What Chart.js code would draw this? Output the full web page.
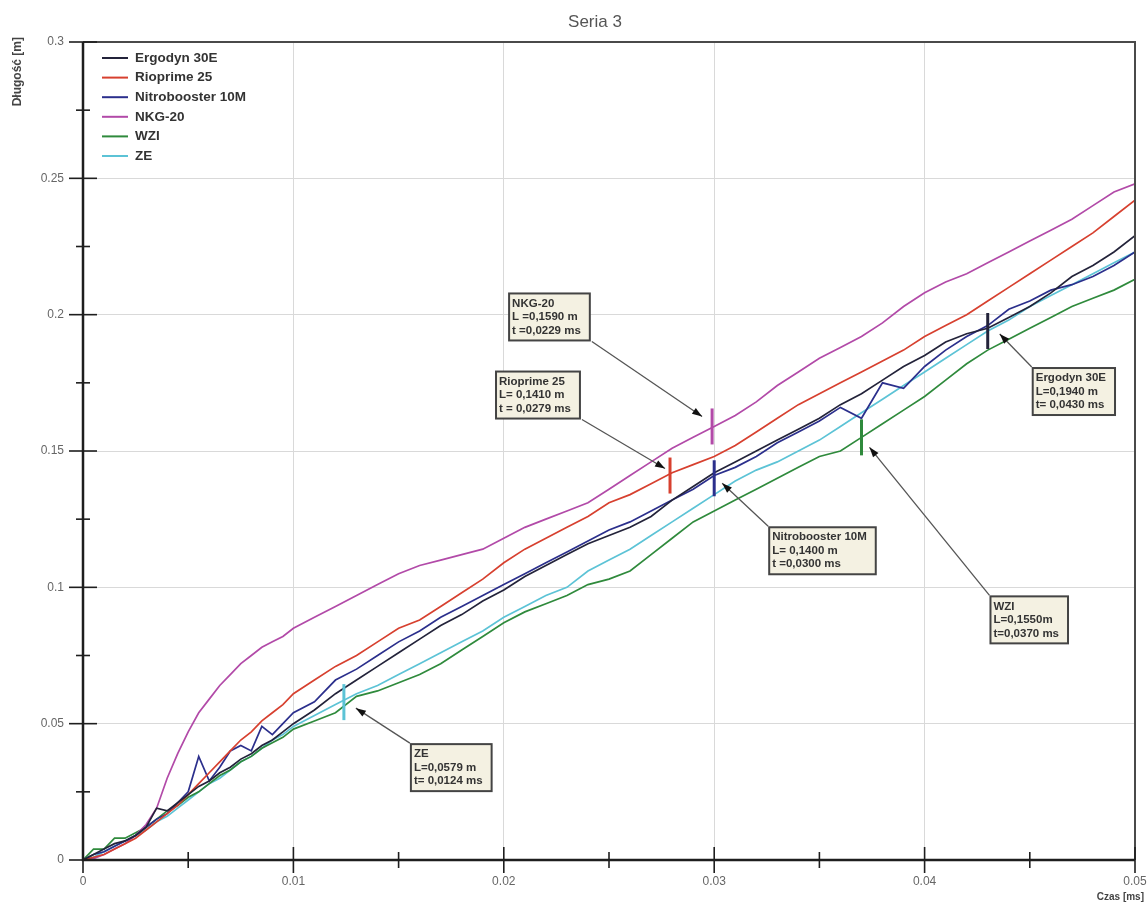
<!DOCTYPE html>
<html><head><meta charset="utf-8">
<script src="https://cdn.jsdelivr.net/npm/chart.js@4.4.1/dist/chart.umd.min.js"></script>
<style>html,body{margin:0;padding:0;background:#fff}#wrap{width:1147px;height:905px;position:relative}</style>
</head><body><div id="wrap"><canvas id="c" width="1147" height="905"></canvas></div>
<script>
// ---------- DATA ----------
const chartTitle = 'Seria 3';
const xAxisTitle = 'Czas [ms]';
const yAxisTitle = 'Długość [m]';
const seriesNames = ['Ergodyn 30E', 'Rioprime 25', 'Nitrobooster 10M', 'NKG-20', 'WZI', 'ZE'];

const times = [0,0.0005,0.001,0.0015,0.002,0.0025,0.003,0.0035,0.004,0.0045,0.005,0.0055,0.006,0.0065,0.007,0.0075,0.008,0.0085,0.009,0.0095,0.01,
  0.011,0.012,0.013,0.014,0.015,0.016,0.017,0.018,0.019,0.02,0.021,0.022,0.023,0.024,0.025,0.026,0.027,0.028,0.029,0.03,
  0.031,0.032,0.033,0.034,0.035,0.036,0.037,0.038,0.039,0.04,0.041,0.042,0.043,0.044,0.045,0.046,0.047,0.048,0.049,0.05];

const ergodyn = [0,0.002,0.004,0.006,0.007,0.009,0.012,0.019,0.018,0.021,0.024,0.027,0.029,0.032,0.034,0.037,0.039,0.042,0.044,0.047,0.050,
  0.055,0.061,0.066,0.071,0.076,0.081,0.086,0.090,0.095,0.099,0.104,0.108,0.112,0.116,0.119,0.122,0.126,0.132,0.137,0.142,
  0.146,0.150,0.154,0.158,0.162,0.167,0.171,0.176,0.181,0.185,0.190,0.193,0.195,0.199,0.203,0.208,0.214,0.218,0.223,0.229];

const rioprime = [0,0.001,0.002,0.004,0.006,0.008,0.011,0.014,0.017,0.020,0.024,0.028,0.032,0.036,0.040,0.044,0.047,0.051,0.054,0.057,0.061,
  0.066,0.071,0.075,0.080,0.085,0.088,0.093,0.098,0.103,0.109,0.114,0.118,0.122,0.126,0.131,0.134,0.138,0.142,0.145,0.148,
  0.152,0.157,0.162,0.167,0.171,0.175,0.179,0.183,0.187,0.192,0.196,0.200,0.205,0.210,0.215,0.220,0.225,0.230,0.236,0.242];

const nitrobooster = [0,0.002,0.003,0.005,0.007,0.009,0.012,0.015,0.017,0.021,0.025,0.038,0.029,0.034,0.040,0.042,0.040,0.049,0.046,0.050,0.054,
  0.058,0.066,0.070,0.075,0.080,0.084,0.089,0.093,0.097,0.101,0.105,0.109,0.113,0.117,0.121,0.124,0.128,0.132,0.136,0.141,
  0.144,0.148,0.153,0.157,0.161,0.166,0.162,0.175,0.173,0.181,0.187,0.192,0.196,0.202,0.205,0.209,0.211,0.214,0.218,0.223];

const nkg20 = [0,0.0005,0.002,0.004,0.006,0.009,0.013,0.019,0.030,0.039,0.047,0.054,0.059,0.064,0.068,0.072,0.075,0.078,0.080,0.082,0.085,
  0.089,0.093,0.097,0.101,0.105,0.108,0.110,0.112,0.114,0.118,0.122,0.125,0.128,0.131,0.136,0.141,0.146,0.151,0.155,0.159,
  0.163,0.168,0.174,0.179,0.184,0.188,0.192,0.197,0.203,0.208,0.212,0.215,0.219,0.223,0.227,0.231,0.235,0.240,0.245,0.248];

const wzi = [0,0.004,0.004,0.008,0.008,0.010,0.012,0.015,0.018,0.020,0.023,0.025,0.028,0.031,0.033,0.036,0.038,0.041,0.043,0.045,0.048,
  0.051,0.054,0.060,0.062,0.065,0.068,0.072,0.077,0.082,0.087,0.091,0.094,0.097,0.101,0.103,0.106,0.112,0.118,0.124,0.128,
  0.132,0.136,0.140,0.144,0.148,0.150,0.155,0.160,0.165,0.170,0.176,0.182,0.187,0.191,0.195,0.199,0.203,0.206,0.209,0.213];

const ze = [0,0.001,0.003,0.005,0.007,0.009,0.011,0.014,0.016,0.019,0.022,0.025,0.028,0.030,0.033,0.036,0.038,0.041,0.044,0.046,0.049,
  0.053,0.057,0.061,0.064,0.068,0.072,0.076,0.080,0.084,0.089,0.093,0.097,0.100,0.106,0.110,0.114,0.119,0.124,0.129,0.134,
  0.139,0.143,0.146,0.150,0.154,0.159,0.164,0.169,0.174,0.179,0.184,0.189,0.194,0.198,0.203,0.207,0.211,0.215,0.219,0.223];

const xTickValues = [0, 0.01, 0.02, 0.03, 0.04, 0.05];
const yTickValues = [0, 0.05, 0.1, 0.15, 0.2, 0.25, 0.3];

// annotated points (series index, time, length) and their label texts
const markerSeries = [3, 1, 2, 4, 0, 5];
const markerTimes = [0.0299, 0.0279, 0.0300, 0.0370, 0.0430, 0.0124];
const markerLengths = [0.159, 0.141, 0.140, 0.155, 0.194, 0.0579];
const markerTexts = [
  ['NKG-20', 'L =0,1590 m', 't =0,0229 ms'],
  ['Rioprime 25', 'L= 0,1410 m', 't = 0,0279 ms'],
  ['Nitrobooster 10M', 'L= 0,1400 m', 't =0,0300 ms'],
  ['WZI', 'L=0,1550m', 't=0,0370 ms'],
  ['Ergodyn 30E', 'L=0,1940 m', 't= 0,0430 ms'],
  ['ZE', 'L=0,0579 m', 't= 0,0124 ms']
];

// ---------- STYLE / LAYOUT ----------
const colors = ['#23233a', '#d7402f', '#2b2f8c', '#b24aa8', '#2f8a3c', '#5cc3d6'];
// box offset (px) from marker, arrow start corner ('br' or 'tl'), arrow tip offset from marker
const boxLayout = [
  {dx: -203, dy: -133, corner: 'br', tip: [-10, -10]},
  {dx: -174, dy: -104, corner: 'br', tip: [-5, -7]},
  {dx: 55, dy: 49, corner: 'tl', tip: [8, 5]},
  {dx: 129, dy: 159, corner: 'tl', tip: [8, 10]},
  {dx: 45, dy: 37, corner: 'tl', tip: [12, 3]},
  {dx: 67, dy: 42, corner: 'tl', tip: [12, 6]}
];
const FONT = '"Liberation Sans", Arial, sans-serif';

const seriesData = [ergodyn, rioprime, nitrobooster, nkg20, wzi, ze];
const datasets = seriesNames.map((name, i) => ({
  label: name,
  data: times.map((t, k) => ({x: t, y: seriesData[i][k]})),
  borderColor: colors[i],
  backgroundColor: colors[i],
  borderWidth: 1.7,
  pointRadius: 0,
  tension: 0,
  fill: false
}));

function fmt(v) { return String(+v.toFixed(3)); }

const decor = {
  id: 'decor',
  afterDatasetsDraw(chart) {
    const {ctx, chartArea: a, scales: {x, y}} = chart;
    ctx.save();
    // frame top / right
    ctx.strokeStyle = '#4a4a4a'; ctx.lineWidth = 2;
    ctx.beginPath(); ctx.moveTo(a.left, a.top); ctx.lineTo(a.right, a.top); ctx.lineTo(a.right, a.bottom); ctx.stroke();
    // axes
    ctx.strokeStyle = '#1e1e1e'; ctx.lineWidth = 2.5;
    ctx.beginPath(); ctx.moveTo(a.left, a.top); ctx.lineTo(a.left, a.bottom); ctx.lineTo(a.right, a.bottom); ctx.stroke();
    // ticks crossing the axes (major + minor)
    ctx.lineWidth = 1.6;
    for (let i = 0; i < yTickValues.length; i++) {
      const v = yTickValues[i];
      let py = y.getPixelForValue(v);
      ctx.beginPath(); ctx.moveTo(a.left - 14, py); ctx.lineTo(a.left + 14, py); ctx.stroke();
      if (i < yTickValues.length - 1) {
        py = y.getPixelForValue((v + yTickValues[i + 1]) / 2);
        ctx.beginPath(); ctx.moveTo(a.left - 7, py); ctx.lineTo(a.left + 7, py); ctx.stroke();
      }
    }
    for (let i = 0; i < xTickValues.length; i++) {
      const v = xTickValues[i];
      let px = x.getPixelForValue(v);
      ctx.beginPath(); ctx.moveTo(px, a.bottom - 13); ctx.lineTo(px, a.bottom + 13); ctx.stroke();
      if (i < xTickValues.length - 1) {
        px = x.getPixelForValue((v + xTickValues[i + 1]) / 2);
        ctx.beginPath(); ctx.moveTo(px, a.bottom - 8); ctx.lineTo(px, a.bottom + 8); ctx.stroke();
      }
    }
    // markers + annotations
    ctx.font = 'bold 11.5px ' + FONT;
    markerTimes.forEach((t, i) => {
      const mx = x.getPixelForValue(t), my = y.getPixelForValue(markerLengths[i]);
      ctx.strokeStyle = colors[markerSeries[i]]; ctx.lineWidth = 3;
      ctx.beginPath(); ctx.moveTo(mx, my - 18); ctx.lineTo(mx, my + 18); ctx.stroke();
      const L = boxLayout[i];
      const lines = markerTexts[i];
      const w = Math.max(...lines.map(s => ctx.measureText(s).width)) + 12;
      const h = 47;
      const bx = mx + L.dx, by = my + L.dy;
      const sx = L.corner === 'br' ? bx + w + 2 : bx - 1;
      const sy = L.corner === 'br' ? by + h + 1 : by - 1;
      const tx = mx + L.tip[0], ty = my + L.tip[1];
      ctx.strokeStyle = '#555'; ctx.lineWidth = 1.3;
      ctx.beginPath(); ctx.moveTo(sx, sy); ctx.lineTo(tx, ty); ctx.stroke();
      const ang = Math.atan2(ty - sy, tx - sx);
      ctx.fillStyle = '#111';
      ctx.beginPath(); ctx.moveTo(tx, ty);
      ctx.lineTo(tx - 10 * Math.cos(ang) + 3.5 * Math.sin(ang), ty - 10 * Math.sin(ang) - 3.5 * Math.cos(ang));
      ctx.lineTo(tx - 10 * Math.cos(ang) - 3.5 * Math.sin(ang), ty - 10 * Math.sin(ang) + 3.5 * Math.cos(ang));
      ctx.closePath(); ctx.fill();
      ctx.fillStyle = '#f4f1e2'; ctx.fillRect(bx, by, w, h);
      ctx.strokeStyle = '#444'; ctx.lineWidth = 2; ctx.strokeRect(bx, by, w, h);
      ctx.fillStyle = '#333'; ctx.textBaseline = 'middle'; ctx.textAlign = 'left';
      lines.forEach((s, k) => ctx.fillText(s, bx + 3, by + 10 + k * 13.5));
    });
    ctx.restore();
  },
  afterDraw(chart) {
    const {ctx} = chart;
    ctx.save();
    // title
    ctx.fillStyle = '#555'; ctx.font = '17px ' + FONT; ctx.textAlign = 'center'; ctx.textBaseline = 'middle';
    ctx.fillText(chartTitle, 595, 22);
    // axis titles
    ctx.fillStyle = '#444'; ctx.font = 'bold 10px ' + FONT;
    ctx.textAlign = 'right'; ctx.fillText(xAxisTitle, 1144, 897);
    ctx.font = 'bold 12px ' + FONT;
    ctx.save(); ctx.translate(18, 37); ctx.rotate(-Math.PI / 2); ctx.textAlign = 'right'; ctx.fillText(yAxisTitle, 0, 0); ctx.restore();
    // legend
    ctx.font = 'bold 13.5px ' + FONT; ctx.textAlign = 'left'; ctx.textBaseline = 'middle';
    seriesNames.forEach((n, i) => {
      const ry = 58 + i * 19.6;
      ctx.strokeStyle = colors[i]; ctx.lineWidth = 2;
      ctx.beginPath(); ctx.moveTo(102, ry); ctx.lineTo(128, ry); ctx.stroke();
      ctx.fillStyle = '#333'; ctx.fillText(n, 135, ry);
    });
    ctx.restore();
  }
};

new Chart(document.getElementById('c'), {
  type: 'line',
  data: {datasets},
  options: {
    responsive: false,
    animation: false,
    layout: {padding: {top: 42, right: 12, left: 0, bottom: 0}},
    plugins: {legend: {display: false}, title: {display: false}, tooltip: {enabled: false}},
    scales: {
      x: {
        type: 'linear', min: 0, max: 0.05,
        afterBuildTicks: s => { s.ticks = xTickValues.map(v => ({value: v})); },
        afterFit: s => { s.height = 45; s.paddingLeft = 0; s.paddingRight = 0; },
        grid: {color: '#d9d9d9', lineWidth: 1, drawTicks: false},
        border: {display: false},
        ticks: {padding: 14, color: '#666', font: {family: FONT, size: 12}, callback: v => fmt(v), maxRotation: 0, autoSkip: false}
      },
      y: {
        type: 'linear', min: 0, max: 0.3,
        afterBuildTicks: s => { s.ticks = yTickValues.map(v => ({value: v})); },
        afterFit: s => { s.width = 83; s.paddingTop = 0; s.paddingBottom = 0; },
        grid: {color: '#d9d9d9', lineWidth: 1, drawTicks: false},
        border: {display: false},
        ticks: {padding: 19, color: '#666', font: {family: FONT, size: 12}, callback: v => fmt(v), autoSkip: false}
      }
    }
  },
  plugins: [decor]
});
</script>
</body></html>
